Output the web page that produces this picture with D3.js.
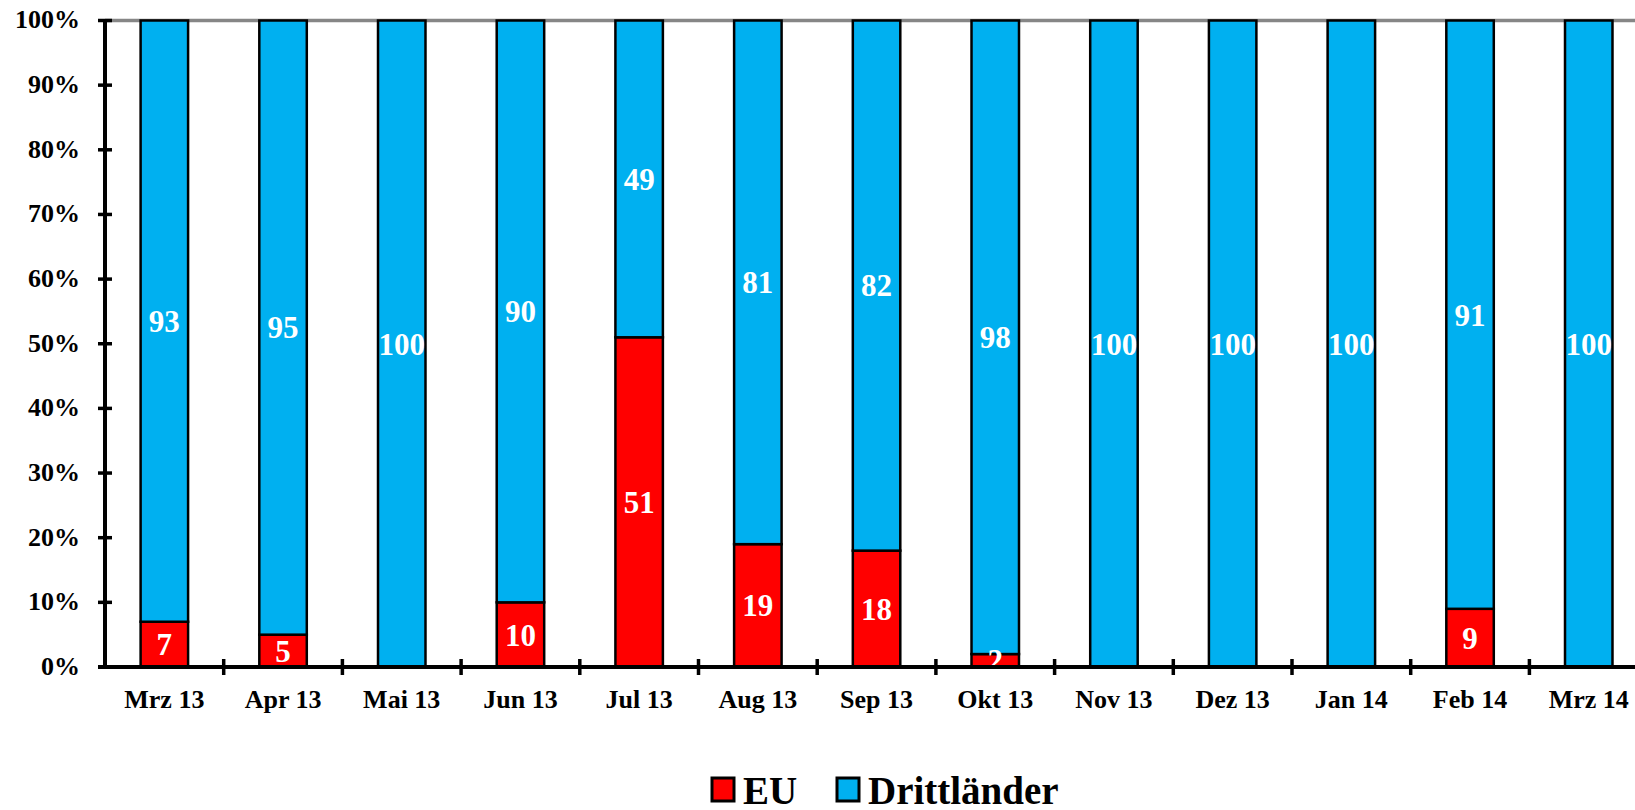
<!DOCTYPE html>
<html>
<head>
<meta charset="utf-8">
<script src="https://cdn.jsdelivr.net/npm/d3@7"></script>
<style>
  body { margin: 0; background: #fff; overflow: hidden; }
  svg { display: block; font-family: "Times New Roman", "Liberation Serif", serif; font-weight: bold; }
</style>
</head>
<body>
<svg width="1635" height="810"></svg>
<script>
var months = ["Mrz 13","Apr 13","Mai 13","Jun 13","Jul 13","Aug 13","Sep 13","Okt 13","Nov 13","Dez 13","Jan 14","Feb 14","Mrz 14"];
var euValues = [7,5,0,10,51,19,18,2,0,0,0,9,0];
var drittValues = [93,95,100,90,49,81,82,98,100,100,100,91,100];
var seriesNames = ["EU","Drittländer"];
var yTicks = [0,10,20,30,40,50,60,70,80,90,100];

var width = 1635, height = 810;
var x0 = 105, step = 118.7;
var colors = d3.scaleOrdinal().domain(seriesNames).range(["#ff0000","#00b0f0"]);

var x = d3.scaleBand()
  .domain(months)
  .range([x0, x0 + step * months.length])
  .paddingInner(0.6)
  .paddingOuter(0.3);
var y = d3.scaleLinear()
  .domain([0, 100])
  .range([667, 20.5]);

var svg = d3.select("svg");

var rows = months.map(function(m, i) {
  return { month: m, EU: euValues[i], "Drittländer": drittValues[i] };
});
var stacked = d3.stack().keys(seriesNames)(rows);

// top border of plot area
svg.append("line")
  .attr("x1", x0).attr("x2", width)
  .attr("y1", y(100)).attr("y2", y(100))
  .attr("stroke", "#868686")
  .attr("stroke-width", 3.5);

var layers = svg.append("g").selectAll("g")
  .data(stacked)
  .enter().append("g")
  .attr("fill", function(d) { return colors(d.key); });

layers.selectAll("rect")
  .data(function(d) { return d; })
  .enter().append("rect")
  .filter(function(d) { return d[1] - d[0] > 0; })
  .attr("x", function(d) { return x(d.data.month); })
  .attr("width", x.bandwidth())
  .attr("y", function(d) { return y(d[1]); })
  .attr("height", function(d) { return y(d[0]) - y(d[1]); })
  .attr("stroke", "#000")
  .attr("stroke-width", 2.5);

// labels drawn after all bars so small segments stay visible
var labelLayers = svg.append("g").selectAll("g")
  .data(stacked)
  .enter().append("g");

labelLayers.selectAll("text")
  .data(function(d) { return d; })
  .enter().append("text")
  .filter(function(d) { return d[1] - d[0] > 0; })
  .attr("x", function(d) { return x(d.data.month) + x.bandwidth() / 2; })
  .attr("y", function(d) { return y((d[0] + d[1]) / 2); })
  .attr("dy", "0.35em")
  .attr("text-anchor", "middle")
  .attr("fill", "#fff")
  .attr("font-size", 31)
  .text(function(d) { return d[1] - d[0]; });

// y axis
var yAxis = svg.append("g");
yAxis.append("line")
  .attr("x1", x0).attr("x2", x0)
  .attr("y1", y(100)).attr("y2", y(0))
  .attr("stroke", "#000").attr("stroke-width", 4);
yAxis.selectAll(".ytick")
  .data(yTicks)
  .enter().append("line")
  .attr("x1", x0 - 7).attr("x2", x0 + 7)
  .attr("y1", function(d) { return y(d); })
  .attr("y2", function(d) { return y(d); })
  .attr("stroke", "#000").attr("stroke-width", 3.5);
yAxis.selectAll("text")
  .data(yTicks)
  .enter().append("text")
  .attr("x", 80)
  .attr("y", function(d) { return y(d); })
  .attr("dy", "0.3em")
  .attr("text-anchor", "end")
  .attr("font-size", 26)
  .text(function(d) { return d + "%"; });

// x axis
var xAxis = svg.append("g");
xAxis.append("line")
  .attr("x1", x0 - 7).attr("x2", width)
  .attr("y1", y(0)).attr("y2", y(0))
  .attr("stroke", "#000").attr("stroke-width", 4);
xAxis.selectAll(".xtick")
  .data(months.slice(1))
  .enter().append("line")
  .attr("x1", function(d) { return x(d) - x.step() * 0.3; })
  .attr("x2", function(d) { return x(d) - x.step() * 0.3; })
  .attr("y1", y(0) - 8).attr("y2", y(0) + 8)
  .attr("stroke", "#000").attr("stroke-width", 3.5);
xAxis.selectAll("text")
  .data(months)
  .enter().append("text")
  .attr("x", function(d) { return x(d) + x.bandwidth() / 2; })
  .attr("y", 708)
  .attr("text-anchor", "middle")
  .attr("font-size", 26)
  .text(function(d) { return d; });

// legend
var legendX = [712, 837];
var legend = svg.append("g").selectAll("g")
  .data(seriesNames)
  .enter().append("g")
  .attr("transform", function(d, i) { return "translate(" + legendX[i] + ",778)"; });
legend.append("rect")
  .attr("width", 22).attr("height", 23)
  .attr("fill", colors)
  .attr("stroke", "#000").attr("stroke-width", 3);
legend.append("text")
  .attr("x", 31)
  .attr("y", 26)
  .attr("font-size", 39)
  .text(function(d) { return d; });
</script>
</body>
</html>
